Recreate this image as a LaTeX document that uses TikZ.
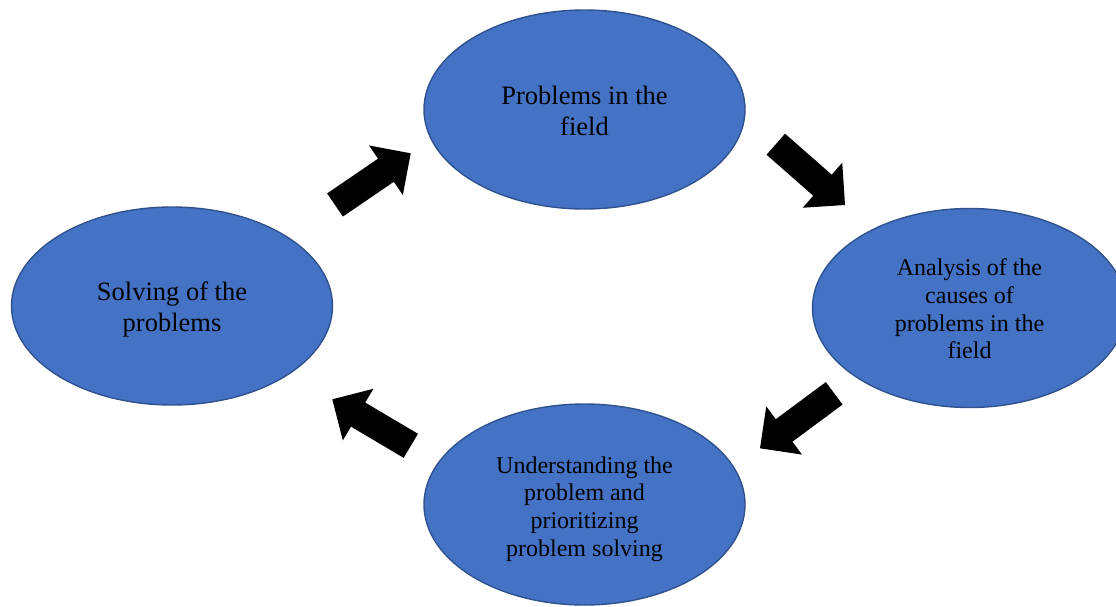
\documentclass[tikz,border=0pt]{standalone}
\usepackage{fontspec}
\setmainfont{Liberation Serif}
\usetikzlibrary{shapes.geometric,calc}
\definecolor{ellfill}{HTML}{4472C4}
\definecolor{elldraw}{HTML}{2F528F}
\tikzset{
  cyc/.style={ellipse, draw=elldraw, fill=ellfill, line width=1.4pt,
    minimum width=321pt, minimum height=199pt, inner sep=0pt},
  lbl/.style={align=center, text=black, inner sep=0pt},
  bigtxt/.style={font=\fontsize{26.5}{31}\selectfont},
  smalltxt/.style={font=\fontsize{24}{27.7}\selectfont},
}
\newcommand\blkarrow[2]{%
  \coordinate (hb) at ($(#2)!30pt!(#1)$);
  \fill[black] ($(#1)!14pt!90:(#2)$) -- ($(hb)!14pt!-90:(#1)$) -- ($(hb)!30pt!-90:(#1)$)
    -- (#2) -- ($(hb)!30pt!90:(#1)$) -- ($(hb)!14pt!90:(#1)$) -- ($(#1)!14pt!-90:(#2)$) -- cycle;
}
\begin{document}
\begin{tikzpicture}[x=1pt,y=-1pt]
\useasboundingbox (0,0) rectangle (1116,606);
\node[cyc] (top) at (584.5,109.5) {};
\node[cyc,minimum width=314pt] (right) at (969.5,308) {};
\node[cyc,minimum height=201pt] (bottom) at (584.5,504.5) {};
\node[cyc,minimum height=198pt] (left) at (172,306) {};
\node[lbl,bigtxt] (toptxt) at ([yshift=-1.5pt]top.center) {Problems in the\\field};
\node[lbl,smalltxt] (righttxt) at ([yshift=-1pt]right.center) {Analysis of the\\causes of\\problems in the\\field};
\node[lbl,smalltxt] (bottomtxt) at ([yshift=-4.5pt]bottom.center) {Understanding the\\problem and\\prioritizing\\problem solving};
\node[lbl,bigtxt] (lefttxt) at ([yshift=-3pt]left.center) {Solving of the\\problems};
\coordinate (a1s) at (335,205);
\coordinate (a1e) at (410.7,153.3);
\coordinate (a2s) at (775.8,144.2);
\coordinate (a2e) at (845,205);
\coordinate (a3s) at (834.2,393.3);
\coordinate (a3e) at (760,448.3);
\coordinate (a4s) at (410.8,445.8);
\coordinate (a4e) at (332.3,399.3);
\blkarrow{a1s}{a1e}
\blkarrow{a2s}{a2e}
\blkarrow{a3s}{a3e}
\blkarrow{a4s}{a4e}
\end{tikzpicture}
\end{document}
